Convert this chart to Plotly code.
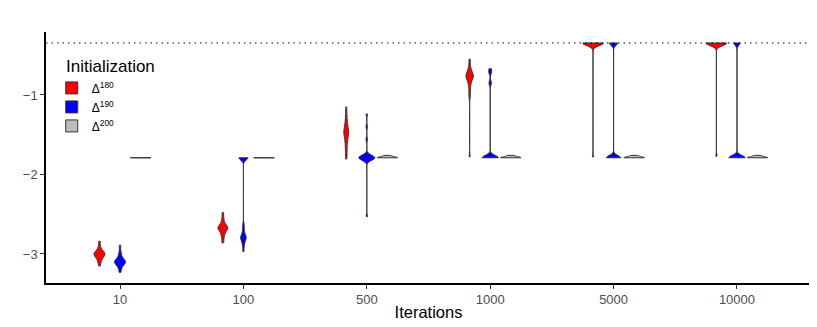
import plotly.graph_objects as go

iterations = ["10", "100", "500", "1000", "5000", "10000"]
init_names = ["Δ<sup>180</sup>", "Δ<sup>190</sup>", "Δ<sup>200</sup>"]
init_colors = ["#FF0000", "#0000FF", "#BEBEBE"]
ref_level = -0.346

# samples (one list per iteration / initialization)
d180_10 = [-2.84, -2.91, -2.95, -2.97, -2.98, -2.99, -3.00, -3.00, -3.01, -3.02, -3.03, -3.05, -3.07, -3.10, -3.15]
d180_100 = [-2.48, -2.55, -2.60, -2.63, -2.65, -2.66, -2.67, -2.67, -2.68, -2.69, -2.71, -2.73, -2.76, -2.80, -2.86]
d180_500 = [-1.15, -1.25, -1.32, -1.37, -1.41, -1.44, -1.46, -1.47, -1.49, -1.52, -1.55, -1.60, -1.66, -1.73, -1.805]
d180_1000 = [-0.55, -0.62, -0.67, -0.70, -0.72, -0.74, -0.75, -0.76, -0.76, -0.77, -0.78, -0.80, -0.82, -0.85,
             -0.89, -0.95, -1.02, -1.78]
d180_5000 = [-0.346, -0.346, -0.346, -0.346, -0.346, -0.346, -0.346, -0.346, -0.346, -0.346, -0.346, -0.346,
             -0.346, -0.346, -0.35, -0.35, -0.37, -0.38, -1.78]
d180_10000 = [-0.346, -0.346, -0.346, -0.346, -0.346, -0.346, -0.346, -0.346, -0.346, -0.346, -0.346, -0.346,
              -0.346, -0.346, -0.35, -0.35, -0.37, -0.38, -1.77]

d190_10 = [-2.89, -2.97, -3.02, -3.05, -3.07, -3.08, -3.09, -3.10, -3.10, -3.11, -3.12, -3.13, -3.15, -3.18, -3.23]
d190_100 = [-1.79, -1.79, -1.79, -1.79, -1.79, -1.79, -1.79, -1.79, -2.63, -2.68, -2.73, -2.76, -2.78, -2.79,
            -2.80, -2.81, -2.83, -2.86, -2.90, -2.97]
d190_500 = [-1.24, -1.40, -1.56, -1.75, -1.76, -1.77, -1.78, -1.78, -1.79, -1.79, -1.79, -1.79, -1.80, -1.80,
            -1.81, -1.82, -1.83, -2.53]
d190_1000 = [-0.67, -0.70, -0.72, -0.84, -0.86, -1.77, -1.79, -1.79, -1.79, -1.79, -1.79, -1.79,
             -1.79, -1.79, -1.79, -1.79, -1.79, -1.79]
d190_5000 = [-0.346, -0.346, -0.346, -0.346, -0.346, -0.346, -0.346, -1.79, -1.79, -1.79, -1.79, -1.79,
             -1.79, -1.79, -1.79, -1.79, -1.79, -1.79, -1.79]
d190_10000 = [-0.346, -0.346, -0.346, -0.346, -0.346, -1.79, -1.79, -1.79, -1.79, -1.79, -1.79,
              -1.79, -1.79, -1.79, -1.79, -1.79, -1.79, -1.79]

d200_10 = [-1.79, -1.79, -1.79, -1.79, -1.79]
d200_100 = [-1.79, -1.79, -1.79, -1.79, -1.79]
d200_500 = [-1.79, -1.79, -1.79, -1.79, -1.79, -1.79, -1.785, -1.78, -1.775, -1.77, -1.765, -1.76]
d200_1000 = [-1.79, -1.79, -1.79, -1.79, -1.79, -1.79, -1.785, -1.78, -1.775, -1.77, -1.765, -1.76]
d200_5000 = [-1.79, -1.79, -1.79, -1.79, -1.79, -1.79, -1.785, -1.78, -1.775, -1.77, -1.765, -1.76]
d200_10000 = [-1.79, -1.79, -1.79, -1.79, -1.79, -1.79, -1.785, -1.78, -1.775, -1.77, -1.765, -1.76]

all_samples = [
    [d180_10, d180_100, d180_500, d180_1000, d180_5000, d180_10000],
    [d190_10, d190_100, d190_500, d190_1000, d190_5000, d190_10000],
    [d200_10, d200_100, d200_500, d200_1000, d200_5000, d200_10000],
]
# kernel bandwidths (ggplot picks one per violin)
bandwidths = [
    [0.03, 0.03, 0.05, 0.04, 0.03, 0.03],
    [0.03, 0.03, 0.025, 0.03, 0.03, 0.03],
    [None, None, 0.008, 0.008, 0.008, 0.008],
]

fig = go.Figure()

for g in range(3):
    for i, it in enumerate(iterations):
        vals = all_samples[g][i]
        fig.add_trace(go.Violin(
            x=[it] * len(vals), y=vals,
            name=init_names[g], legendgroup=init_names[g], showlegend=(i == 0),
            offsetgroup=str(g), alignmentgroup="all",
            fillcolor=init_colors[g], line=dict(color="#333333", width=1),
            opacity=1,
            bandwidth=bandwidths[g][i], spanmode="hard",
            scalemode="width", scalegroup=("col" if g < 2 else "grey" + it),
            points=False, box_visible=False, meanline_visible=False,
            hoverinfo="skip",
        ))

fig.add_hline(y=ref_level, line=dict(color="black", width=1, dash="1.5px,4px"))

# legend title placed by hand so it sits like the ggplot guide title
fig.add_annotation(
    text="Initialization", xref="paper", yref="paper", x=0.0235, y=0.861,
    xanchor="left", yanchor="middle", showarrow=False,
    font=dict(size=17, color="black"),
)

# the page body keeps an 8px margin, so the figure is drawn 8px smaller
fig.update_layout(
    width=809, height=319,
    margin=dict(l=38, r=6, t=24, b=44),
    paper_bgcolor="white", plot_bgcolor="white",
    font=dict(family="Liberation Sans, Arial, sans-serif", size=13, color="#4D4D4D"),
    violinmode="group", violingap=0.5, violingroupgap=0,
    showlegend=True,
    legend=dict(
        font=dict(size=12, color="black"),
        x=0.0075, xanchor="left", y=0.835, yanchor="top",
        bgcolor="rgba(0,0,0,0)", tracegroupgap=0,
    ),
    xaxis=dict(
        type="category", categoryorder="array", categoryarray=iterations,
        range=[-0.6, 5.6],
        title=dict(text="Iterations", font=dict(size=16.5, color="black"), standoff=0),
        showline=True, linecolor="black", linewidth=1.5,
        ticks="outside", ticklen=4, tickcolor="#333333",
        showgrid=False, zeroline=False, automargin=False,
    ),
    yaxis=dict(
        range=[-3.365, -0.208],
        tickvals=[-3, -2, -1],
        showline=True, linecolor="black", linewidth=1.5,
        ticks="outside", ticklen=4, tickcolor="#333333",
        showgrid=False, zeroline=False, automargin=False,
    ),
)

fig.write_html("out.html")
